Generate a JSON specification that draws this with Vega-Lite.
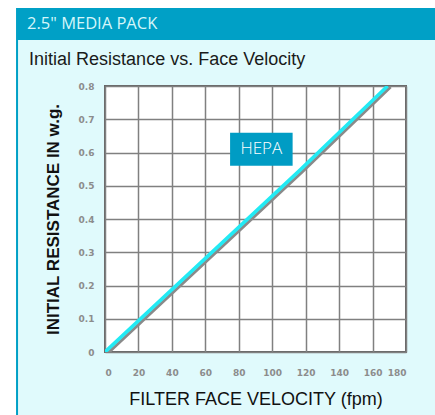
{
  "$schema": "https://vega.github.io/schema/vega-lite/v6.json",
  "width": 301,
  "height": 266,
  "autosize": {"type": "none"},
  "padding": {"left": 105, "top": 86, "right": 29, "bottom": 63},
  "background": "#E0FAFC",
  "config": {
    "view": {"fill": "white", "stroke": "#666666", "strokeWidth": 2},
    "axis": {
      "domain": false, "ticks": false, "grid": true, "gridColor": "#808080", "gridWidth": 1.5,
      "labelColor": "#8c8c8c", "labelFontSize": 9, "labelFont": "DejaVu Sans", "labelFontWeight": "bold", "labelOverlap": false,
      "titleColor": "#111111", "titleFontWeight": "normal"
    }
  },
  "datasets": {
    "curve": [{"x": 0, "y": 0}, {"x": 116.6, "y": 0.547}, {"x": 169, "y": 0.8}],
    "boxes": [
      {"name": "topwhite", "x": -70, "x2": 200, "y": 1.0346, "y2": 1.4, "color": "#ffffff"},
      {"name": "leftwhite", "x": -70, "x2": -53.2, "y": -0.3, "y2": 1.4, "color": "#ffffff"},
      {"name": "header", "x": -53.2, "x2": 200, "y": 0.9383, "y2": 1.0346, "color": "#00A0C6"},
      {"name": "leftline", "x": -53.2, "x2": -52.0, "y": -0.3, "y2": 0.9383, "color": "#00A0C6"}
    ],
    "hepa": [{"x": 74.8, "x2": 112.2, "y": 0.5603, "y2": 0.6596, "label": "HEPA"}],
    "hepaText": [{"x": 93.5, "y": 0.61, "label": "HEPA"}],
    "texts": [
      {"x": -46.6, "y": 0.9714, "label": "2.5\" MEDIA PACK", "kind": "header"},
      {"x": -45.4, "y": 0.863, "label": "Initial Resistance vs. Face Velocity", "kind": "sub"}
    ]
  },
  "encoding": {
    "x": {"field": "x", "type": "quantitative", "scale": {"domain": [0, 180], "nice": false, "zero": false},
      "axis": {"values": [0, 20, 40, 60, 80, 100, 120, 140, 160, 180], "labelPadding": 16, "title": "FILTER FACE VELOCITY (fpm)", "titleFont": "Liberation Sans", "titleFontSize": 18, "titlePadding": 13}},
    "y": {"field": "y", "type": "quantitative", "scale": {"domain": [0, 0.8], "nice": false, "zero": false},
      "axis": {"values": [0, 0.1, 0.2, 0.3, 0.4, 0.5, 0.6, 0.7, 0.8], "labelExpr": "datum.value == 0 ? '0' : format(datum.value, '.1f')", "labelPadding": 11, "title": "INITIAL RESISTANCE IN w.g.", "titleFont": "Liberation Sans", "titleFontSize": 17, "titleFontWeight": "bold", "titlePadding": 16}}
  },
  "layer": [
    {
      "data": {"name": "boxes"},
      "mark": {"type": "rect", "clip": false},
      "encoding": {
        "x2": {"field": "x2"},
        "y2": {"field": "y2"},
        "color": {"field": "color", "type": "nominal", "scale": null}
      }
    },
    {
      "data": {"name": "texts"},
      "transform": [{"filter": "datum.kind == 'header'"}],
      "mark": {"type": "text", "clip": false, "align": "left", "baseline": "alphabetic", "font": "Open Sans", "fontSize": 16.5, "color": "#D4F6FA", "letterSpacing": 3.6},
      "encoding": {"text": {"field": "label"}}
    },
    {
      "data": {"name": "texts"},
      "transform": [{"filter": "datum.kind == 'sub'"}],
      "mark": {"type": "text", "clip": false, "align": "left", "baseline": "alphabetic", "font": "Liberation Sans", "fontSize": 18, "color": "#1a1a1a"},
      "encoding": {"text": {"field": "label"}}
    },
    {
      "data": {"name": "curve"},
      "mark": {"type": "line", "color": "#8a8a8a", "strokeWidth": 3, "xOffset": 3, "yOffset": 1, "clip": true},
      "encoding": {}
    },
    {
      "data": {"name": "curve"},
      "mark": {"type": "line", "color": "#22EAF4", "strokeWidth": 3.5, "clip": true},
      "encoding": {}
    },
    {
      "data": {"name": "hepa"},
      "mark": {"type": "rect", "color": "#009CC4"},
      "encoding": {"x2": {"field": "x2"}, "y2": {"field": "y2"}}
    },
    {
      "data": {"name": "hepaText"},
      "mark": {"type": "text", "color": "white", "font": "Open Sans", "fontSize": 17, "fontWeight": 300, "letterSpacing": 1.5, "baseline": "middle", "align": "center"},
      "encoding": {"text": {"field": "label"}}
    }
  ]
}
